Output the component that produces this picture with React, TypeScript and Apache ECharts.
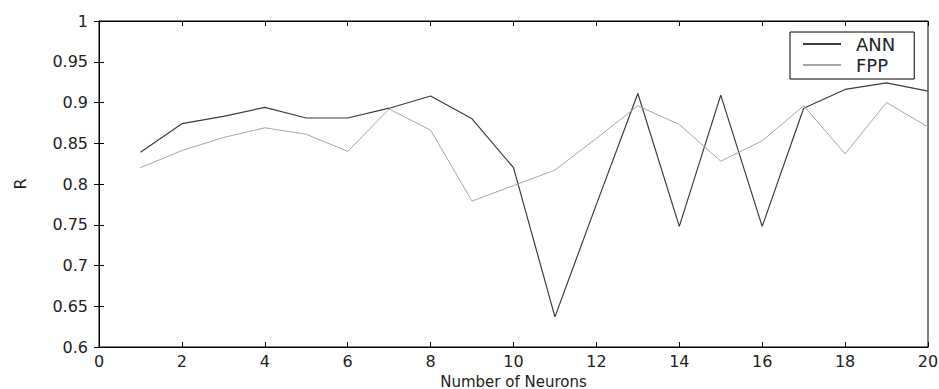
import React, { useEffect, useRef } from "react";
import * as echarts from "echarts";

const neurons = [1, 2, 3, 4, 5, 6, 7, 8, 9, 10, 11, 12, 13, 14, 15, 16, 17, 18, 19, 20];
const annValues = [0.839, 0.874, 0.883, 0.894, 0.881, 0.881, 0.893, 0.908, 0.880, 0.820, 0.637, 0.775, 0.911, 0.748, 0.909, 0.748, 0.893, 0.916, 0.924, 0.914];
const fppValues = [0.820, 0.841, 0.857, 0.869, 0.861, 0.840, 0.892, 0.866, 0.779, 0.798, 0.817, 0.856, 0.896, 0.873, 0.828, 0.853, 0.896, 0.837, 0.900, 0.870];
const seriesNames = ["ANN", "FPP"];

const FONT = "DejaVu Sans";

export default function App() {
  const ref = useRef<HTMLDivElement>(null);
  useEffect(() => {
    if (!ref.current) return;
    const chart = echarts.init(ref.current, undefined, { renderer: "svg" });
    const fmtY = (v: number) => String(parseFloat(v.toFixed(2)));
    const axisCommon = {
      axisLine: { show: true, lineStyle: { color: "#000", width: 1 } },
      axisTick: { show: true, inside: true, length: 5, lineStyle: { color: "#000" } },
      splitLine: { show: false },
    };
    chart.setOption({
      animation: false,
      backgroundColor: "#fff",
      grid: {
        left: 99, right: 11, top: 21, bottom: 42,
        containLabel: false, outerBoundsMode: "none",
        show: true, borderColor: "#000", borderWidth: 1, backgroundColor: "transparent",
      },
      legend: {
        data: seriesNames,
        orient: "vertical",
        left: 790,
        top: 32,
        padding: [3, 19, 5, 12],
        itemGap: 3,
        itemWidth: 38,
        itemHeight: 14,
        borderColor: "#000",
        borderWidth: 1,
        backgroundColor: "#fff",
        itemStyle: { opacity: 0 },
        textStyle: { fontFamily: FONT, fontSize: 18, color: "#222", lineHeight: 18, padding: [0, 0, 0, 10] },
      },
      xAxis: [
        {
          type: "value", min: 0, max: 20, interval: 2, position: "bottom",
          ...axisCommon,
          axisLabel: { fontFamily: FONT, fontSize: 16, color: "#222", margin: 6, lineHeight: 16 },
          name: "Number of Neurons", nameLocation: "middle", nameGap: 27, nameMoveOverlap: false,
          nameTextStyle: { fontFamily: FONT, fontSize: 15, color: "#222", lineHeight: 15 },
        },
        {
          type: "value", min: 0, max: 20, interval: 2, position: "top",
          ...axisCommon, axisLabel: { show: false },
        },
      ],
      yAxis: [
        {
          type: "value", min: 0.6, max: 1, interval: 0.05, position: "left",
          ...axisCommon,
          axisLabel: { fontFamily: FONT, fontSize: 16, color: "#222", margin: 11, formatter: fmtY },
          name: "R", nameLocation: "middle", nameGap: 71, nameMoveOverlap: false,
          nameTextStyle: { fontFamily: FONT, fontSize: 16, color: "#222" },
        },
        {
          type: "value", min: 0.6, max: 1, interval: 0.05, position: "right",
          ...axisCommon, axisLabel: { show: false },
        },
      ],
      series: [
        {
          name: seriesNames[0], type: "line", symbol: "none",
          data: neurons.map((n, i) => [n, annValues[i]]),
          lineStyle: { color: "#3c3c3c", width: 1.2 },
          itemStyle: { color: "#3c3c3c" },
        },
        {
          name: seriesNames[1], type: "line", symbol: "none",
          data: neurons.map((n, i) => [n, fppValues[i]]),
          lineStyle: { color: "#a6a6a6", width: 1 },
          itemStyle: { color: "#a6a6a6" },
        },
      ],
    });
    return () => chart.dispose();
  }, []);
  return <div ref={ref} style={{ width: 939, height: 389, position: "absolute", left: 0, top: 0 }} />;
}
